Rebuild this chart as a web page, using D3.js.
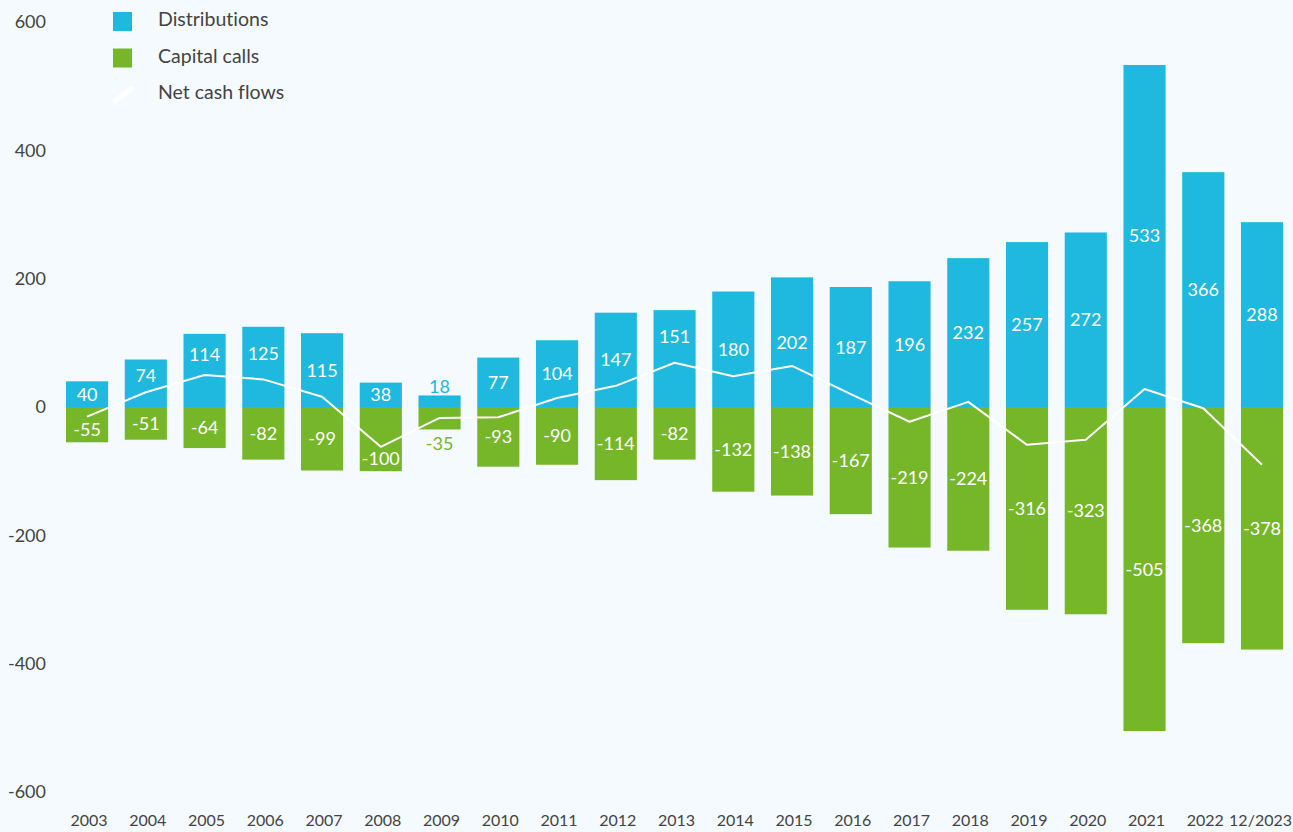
<!DOCTYPE html>
<html>
<head>
<meta charset="utf-8">
<script src="https://cdn.jsdelivr.net/npm/d3@7"></script>
<style>
  html, body { margin: 0; padding: 0; background: #f5faff; }
  svg { display: block; font-family: Lato, "Open Sans", sans-serif; font-variant-ligatures: none; }
</style>
</head>
<body>
<svg id="chart" width="1293" height="832"></svg>
<script>
"use strict";

// categories and series
const years = ["2003", "2004", "2005", "2006", "2007", "2008", "2009", "2010", "2011", "2012",
    "2013", "2014", "2015", "2016", "2017", "2018", "2019", "2020", "2021", "2022", "12/2023"];
const distributions = [40, 74, 114, 125, 115, 38, 18, 77, 104, 147,
    151, 180, 202, 187, 196, 232, 257, 272, 533, 366, 288];
const capitalCalls = [-55, -51, -64, -82, -99, -100, -35, -93, -90, -114,
    -82, -132, -138, -167, -219, -224, -316, -323, -505, -368, -378];
const yTicks = [-600, -400, -200, 0, 200, 400, 600];
const legendItems = ["Distributions", "Capital calls", "Net cash flows"];

const COLORS = { blue: "#1fb9df", green: "#76b72a", text: "#444444", line: "#ffffff" };

const svg = d3.select("#chart");

const x = d3.scaleBand()
    .domain(years)
    .range([57.7, 1291.4])
    .paddingInner(0.283)
    .paddingOuter(0.1415);

const y = d3.scaleLinear().domain([-600, 600]).range([792, 22]);

const rows = years.map((yr, i) => ({
    year: yr,
    dist: distributions[i],
    call: capitalCalls[i],
    net: distributions[i] + capitalCalls[i]
}));

const cx = (d) => x(d.year) + x.bandwidth() / 2;

// y axis labels (plain hyphen minus, as in the original)
const yAxis = svg.append("g")
    .attr("transform", "translate(46,0)")
    .call(d3.axisLeft(y).tickValues(yTicks).tickSize(0).tickPadding(0)
        .tickFormat((d) => String(d)));
yAxis.select(".domain").remove();
yAxis.selectAll("text")
    .attr("fill", COLORS.text)
    .style("font-size", "18px")
    .style("font-family", "Lato, 'Open Sans', sans-serif");

// x axis labels; the last one is pinned to the right edge so it is not clipped
const X_SHIFT = 2;
const xAxis = svg.append("g")
    .attr("transform", `translate(${X_SHIFT},809)`)
    .call(d3.axisBottom(x).tickSize(0).tickPadding(6));
xAxis.select(".domain").remove();
xAxis.selectAll("text")
    .attr("fill", COLORS.text)
    .style("font-size", "16px")
    .style("font-family", "Lato, 'Open Sans', sans-serif");
xAxis.selectAll(".tick")
    .filter((d) => d === years[years.length - 1])
    .select("text")
    .attr("text-anchor", "end")
    .attr("x", (d) => 1292 - X_SHIFT - (x(d) + x.bandwidth() / 2));

// bars
const bars = svg.append("g");
bars.selectAll("rect.dist")
    .data(rows)
    .join("rect")
    .attr("class", "dist")
    .attr("x", (d) => x(d.year))
    .attr("width", x.bandwidth())
    .attr("y", (d) => y(d.dist))
    .attr("height", (d) => y(0) - y(d.dist))
    .attr("fill", COLORS.blue);

bars.selectAll("rect.call")
    .data(rows)
    .join("rect")
    .attr("class", "call")
    .attr("x", (d) => x(d.year))
    .attr("width", x.bandwidth())
    .attr("y", y(0))
    .attr("height", (d) => y(d.call) - y(0))
    .attr("fill", COLORS.green);

// net cash flow line
const line = d3.line()
    .x(cx)
    .y((d) => y(d.net));
svg.append("path")
    .datum(rows)
    .attr("d", line)
    .attr("fill", "none")
    .attr("stroke", COLORS.line)
    .attr("stroke-width", 2)
    .attr("stroke-linejoin", "round");

/**
 * Vertical centre for a label inside a bar. When the net line crosses the
 * label, the label moves into the part of the bar beyond the line.
 */
const labelCentre = (value, netValue) => {
    const outer = y(value);
    const mid = y(value / 2);
    const lineY = y(netValue);
    if (Math.abs(mid - lineY) >= 14) return mid;
    const inner = value > 0 ? Math.min(lineY, y(0)) : Math.max(lineY, y(0));
    return (outer + inner) / 2;
};

// value labels: inside the bar when it is tall enough, else outside in bar colour
const SMALL = 30;
const labels = svg.append("g")
    .style("font-size", "18px")
    .attr("text-anchor", "middle");

labels.selectAll("text.dist")
    .data(rows)
    .join("text")
    .attr("class", "dist")
    .attr("x", cx)
    .attr("y", (d) => (d.dist < SMALL ? y(d.dist) - 2 : labelCentre(d.dist, d.net) + 6.5))
    .attr("fill", (d) => (d.dist < SMALL ? COLORS.blue : "#fff"))
    .text((d) => d.dist);

labels.selectAll("text.call")
    .data(rows)
    .join("text")
    .attr("class", "call")
    .attr("x", cx)
    .attr("y", (d) => (-d.call < SMALL + 10 ? y(d.call) + 21 : labelCentre(d.call, d.net) + 6.5))
    .attr("fill", (d) => (-d.call < SMALL + 10 ? COLORS.green : "#fff"))
    .text((d) => d.call);

// legend
const legend = svg.append("g").attr("transform", "translate(113,12)");
const item = legend.selectAll("g")
    .data(legendItems)
    .join("g")
    .attr("transform", (d, i) => `translate(0,${i * 36.5})`);
item.filter((d, i) => i < 2)
    .append("rect")
    .attr("width", 19)
    .attr("height", 19)
    .attr("fill", (d, i) => (i === 0 ? COLORS.blue : COLORS.green));
item.filter((d, i) => i === 2)
    .append("line")
    .attr("x1", 2).attr("y1", 16)
    .attr("x2", 18).attr("y2", 4)
    .attr("stroke", COLORS.line)
    .attr("stroke-width", 5)
    .attr("stroke-linecap", "round");
item.append("text")
    .attr("x", 45)
    .attr("y", 14)
    .attr("fill", COLORS.text)
    .style("font-size", "19.5px")
    .text((d) => d);
</script>
</body>
</html>
